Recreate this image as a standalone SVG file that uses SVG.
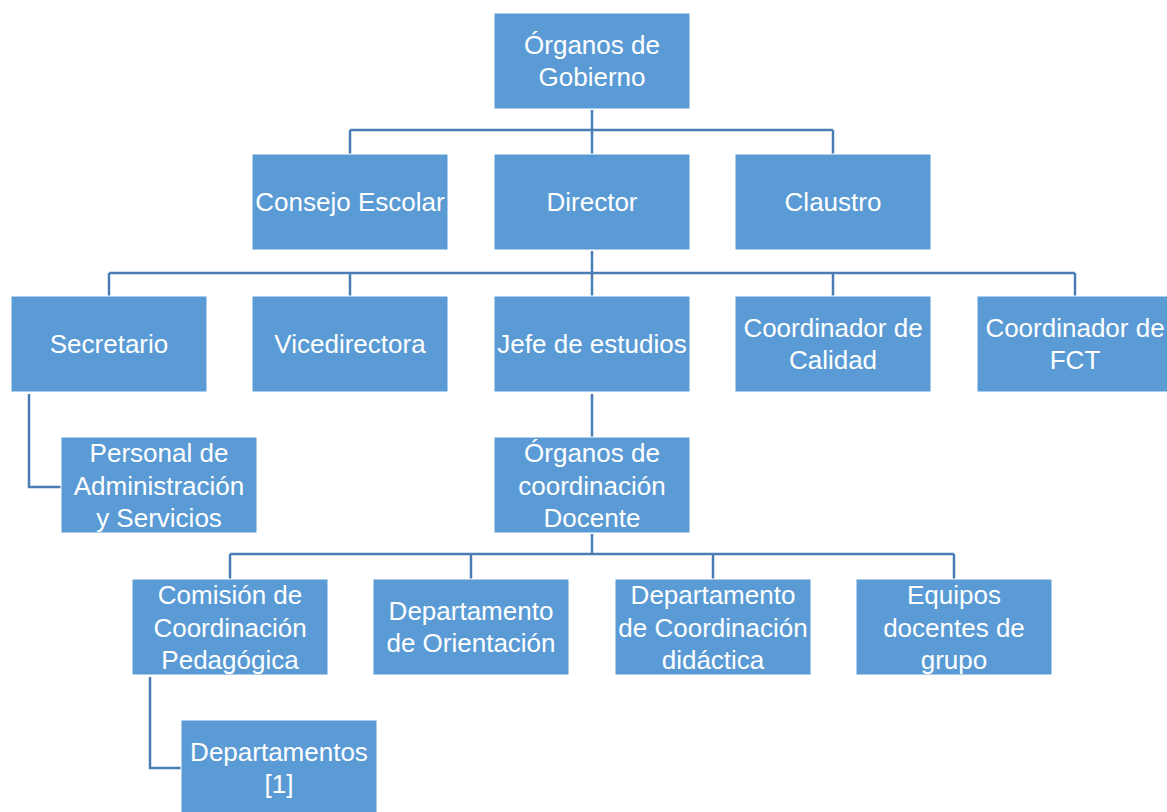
<svg xmlns="http://www.w3.org/2000/svg" width="1167" height="812" viewBox="0 0 1167 812">
<style>
.b{fill:#5B9BD5;stroke:#FFFFFF;stroke-width:1}
.t{font-family:"Liberation Sans",Arial,sans-serif;font-size:26px;fill:#FFFFFF;text-anchor:middle}
.c{fill:none;stroke:#4A7DB5;stroke-width:2.5}
</style>
<rect width="1167" height="812" fill="#FFFFFF"/>
<g id="connectors">
<path class="c" d="M592 110V130M350 130H833M350 130V154M592 130V154M833 130V154"/>
<path class="c" d="M592 251V273M109 273H1075M109 273V296M350 273V296M592 273V296M833 273V296M1075 273V296"/>
<path class="c" d="M592 394V437"/>
<path class="c" d="M29 394V487H61"/>
<path class="c" d="M592 534V554M230 554H954M230 554V579M471 554V579M713 554V579M954 554V579"/>
<path class="c" d="M150 677V768H181"/>
</g>
<g id="n-organos-gobierno"><rect class="b" x="494" y="13" width="196" height="96"/><text class="t" x="592" y="54">Órganos de</text><text class="t" x="592" y="86">Gobierno</text></g>
<g id="n-consejo"><rect class="b" x="252" y="154" width="196" height="96"/><text class="t" x="350" y="211">Consejo Escolar</text></g>
<g id="n-director"><rect class="b" x="494" y="154" width="196" height="96"/><text class="t" x="592" y="211">Director</text></g>
<g id="n-claustro"><rect class="b" x="735" y="154" width="196" height="96"/><text class="t" x="833" y="211">Claustro</text></g>
<g id="n-secretario"><rect class="b" x="11" y="296" width="196" height="96"/><text class="t" x="109" y="353">Secretario</text></g>
<g id="n-vicedirectora"><rect class="b" x="252" y="296" width="196" height="96"/><text class="t" x="350" y="353">Vicedirectora</text></g>
<g id="n-jefe"><rect class="b" x="494" y="296" width="196" height="96"/><text class="t" x="592" y="353">Jefe de estudios</text></g>
<g id="n-calidad"><rect class="b" x="735" y="296" width="196" height="96"/><text class="t" x="833" y="337">Coordinador de</text><text class="t" x="833" y="369">Calidad</text></g>
<g id="n-fct"><rect class="b" x="977" y="296" width="196" height="96"/><text class="t" x="1075" y="337">Coordinador de</text><text class="t" x="1075" y="369">FCT</text></g>
<g id="n-personal"><rect class="b" x="61" y="437" width="196" height="96"/><text class="t" x="159" y="462">Personal de</text><text class="t" x="159" y="495">Administración</text><text class="t" x="159" y="527">y Servicios</text></g>
<g id="n-organos-coord"><rect class="b" x="494" y="437" width="196" height="96"/><text class="t" x="592" y="462">Órganos de</text><text class="t" x="592" y="495">coordinación</text><text class="t" x="592" y="527">Docente</text></g>
<g id="n-comision"><rect class="b" x="132" y="579" width="196" height="96"/><text class="t" x="230" y="604">Comisión de</text><text class="t" x="230" y="637">Coordinación</text><text class="t" x="230" y="669">Pedagógica</text></g>
<g id="n-orientacion"><rect class="b" x="373" y="579" width="196" height="96"/><text class="t" x="471" y="620">Departamento</text><text class="t" x="471" y="652">de Orientación</text></g>
<g id="n-didactica"><rect class="b" x="615" y="579" width="196" height="96"/><text class="t" x="713" y="604">Departamento</text><text class="t" x="713" y="637">de Coordinación</text><text class="t" x="713" y="669">didáctica</text></g>
<g id="n-equipos"><rect class="b" x="856" y="579" width="196" height="96"/><text class="t" x="954" y="604">Equipos</text><text class="t" x="954" y="637">docentes de</text><text class="t" x="954" y="669">grupo</text></g>
<g id="n-departamentos"><rect class="b" x="181" y="720" width="196" height="96"/><text class="t" x="279" y="761">Departamentos</text><text class="t" x="279" y="793">[1]</text></g>
</svg>
